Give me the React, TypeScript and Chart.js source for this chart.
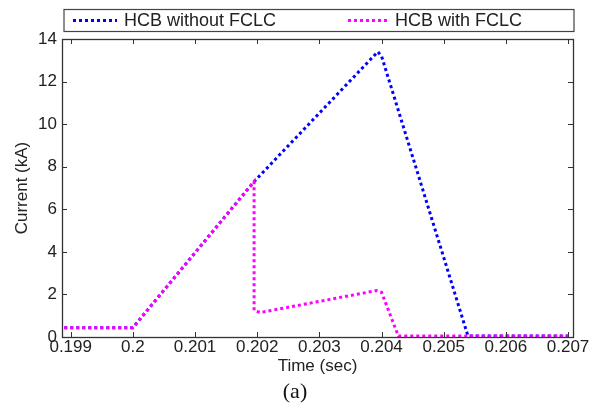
import React, { useEffect, useRef } from "react";
import { Chart, registerables } from "chart.js";

Chart.register(...registerables);

// ---- data ----
const xTicks = [0.199, 0.2, 0.201, 0.202, 0.203, 0.204, 0.205, 0.206, 0.207];
const yTicks = [0, 2, 4, 6, 8, 10, 12, 14];

const seriesLabels = ["HCB without FCLC", "HCB with FCLC"];
const seriesColors = ["#0000ff", "#ff00ff"];

const timeWithout = [0.1988, 0.2, 0.20195, 0.20394, 0.204, 0.20539, 0.207];
const currentWithout = [0.44, 0.44, 7.3, 13.4, 13.2, 0.05, 0.05];

const timeWith = [0.1988, 0.2, 0.20195, 0.20195, 0.20205, 0.20392, 0.204, 0.20427, 0.207];
const currentWith = [0.44, 0.44, 7.3, 1.25, 1.15, 2.18, 2.1, 0.05, 0.05];

const xTitle = "Time (sec)";
const yTitle = "Current (kA)";
const caption = "(a)";

const xMin = 0.19886;
const xMax = 0.20708;
const yMin = 0;
const yMax = 14;

const toPoints = (xs: number[], ys: number[]) => xs.map((x, i) => ({ x, y: ys[i] }));

const fmt = (v: number) => String(parseFloat(v.toFixed(3)));

const decorPlugin = {
  id: "decor",
  afterDatasetsDraw(chart: any) {
    const { ctx, chartArea, scales } = chart;
    const { left, right, top, bottom } = chartArea;
    const x = scales.x;
    const y = scales.y;
    ctx.save();
    ctx.strokeStyle = "#333333";
    ctx.lineWidth = 1;
    ctx.beginPath();
    for (const v of xTicks) {
      const px = Math.round(x.getPixelForValue(v)) + 0.5;
      ctx.moveTo(px, bottom);
      ctx.lineTo(px, bottom - 5);
      ctx.moveTo(px, top);
      ctx.lineTo(px, top + 5);
    }
    for (const v of yTicks) {
      const py = Math.round(y.getPixelForValue(v)) + 0.5;
      ctx.moveTo(left, py);
      ctx.lineTo(left + 5, py);
      ctx.moveTo(right, py);
      ctx.lineTo(right - 5, py);
    }
    ctx.stroke();
    ctx.lineWidth = 1.3;
    ctx.strokeRect(Math.round(left) + 0.5, Math.round(top) + 0.5, Math.round(right - left), Math.round(bottom - top));
    ctx.restore();
  },
  afterDraw(chart: any) {
    const { ctx, chartArea } = chart;
    const { left, right } = chartArea;
    ctx.save();
    // legend box
    const bx = left + 2;
    const by = 9.5;
    const bw = right - left - 1;
    const bh = 22;
    ctx.fillStyle = "#ffffff";
    ctx.fillRect(bx, by, bw, bh);
    ctx.strokeStyle = "#444444";
    ctx.lineWidth = 1.2;
    ctx.strokeRect(bx, by, bw, bh);
    const cy = by + bh / 2;
    const sampleStarts = [bx + 9, bx + 284];
    const sampleLen = [44, 40];
    ctx.font = "18px 'Liberation Sans', Arial, sans-serif";
    ctx.textBaseline = "middle";
    ctx.textAlign = "left";
    chart.data.datasets.forEach((ds: any, i: number) => {
      ctx.strokeStyle = ds.borderColor;
      ctx.lineWidth = 3;
      ctx.setLineDash([3, 3]);
      ctx.beginPath();
      ctx.moveTo(sampleStarts[i], cy);
      ctx.lineTo(sampleStarts[i] + sampleLen[i], cy);
      ctx.stroke();
      ctx.setLineDash([]);
      ctx.fillStyle = "#222222";
      ctx.fillText(ds.label, sampleStarts[i] + sampleLen[i] + 7, cy + 1);
    });
    // caption
    ctx.font = "22px 'Liberation Serif', 'Times New Roman', serif";
    ctx.textAlign = "center";
    ctx.textBaseline = "middle";
    ctx.fillStyle = "#111111";
    ctx.fillText(caption, 295, 392);
    ctx.restore();
  },
};

export default function App() {
  const ref = useRef<HTMLCanvasElement | null>(null);

  useEffect(() => {
    if (!ref.current) return;
    const chart = new Chart(ref.current, {
      type: "line",
      data: {
        datasets: [
          {
            label: seriesLabels[0],
            data: toPoints(timeWithout, currentWithout),
            borderColor: seriesColors[0],
            borderWidth: 3,
            borderDash: [3, 3],
            pointRadius: 0,
            tension: 0,
            fill: false,
            order: 2,
          },
          {
            label: seriesLabels[1],
            data: toPoints(timeWith, currentWith),
            borderColor: seriesColors[1],
            borderWidth: 3,
            borderDash: [3, 3],
            pointRadius: 0,
            tension: 0,
            fill: false,
            order: 1,
          },
        ],
      },
      options: {
        animation: false,
        responsive: false,
        maintainAspectRatio: false,
        layout: { padding: { top: 39, right: 21, left: 0, bottom: 0 } },
        plugins: {
          legend: { display: false },
          tooltip: { enabled: false },
        },
        scales: {
          x: {
            type: "linear",
            min: xMin,
            max: xMax,
            afterBuildTicks: (scale: any) => {
              scale.ticks = xTicks.map((v) => ({ value: v }));
            },
            afterFit: (scale: any) => {
              scale.height = 66;
            },
            grid: { display: false, drawTicks: false },
            border: { display: false },
            ticks: {
              autoSkip: false,
              maxRotation: 0,
              padding: 2,
              color: "#222222",
              font: { family: "'Liberation Sans', Arial, sans-serif", size: 17, lineHeight: 1 },
              callback: (v: any) => fmt(Number(v)),
            },
            title: {
              display: true,
              text: xTitle,
              color: "#222222",
              font: { family: "'Liberation Sans', Arial, sans-serif", size: 17, lineHeight: 1.2 },
              padding: { top: 0, bottom: 26 },
            },
          },
          y: {
            type: "linear",
            min: yMin,
            max: yMax,
            afterBuildTicks: (scale: any) => {
              scale.ticks = yTicks.map((v) => ({ value: v }));
            },
            afterFit: (scale: any) => {
              scale.width = 62;
            },
            grid: { display: false, drawTicks: false },
            border: { display: false },
            ticks: {
              autoSkip: false,
              padding: 5,
              color: "#222222",
              font: { family: "'Liberation Sans', Arial, sans-serif", size: 17, lineHeight: 1 },
              callback: (v: any) => String(v),
            },
            title: {
              display: true,
              text: yTitle,
              color: "#222222",
              font: { family: "'Liberation Sans', Arial, sans-serif", size: 17, lineHeight: 1.2 },
              padding: { top: 12, bottom: 0 },
            },
          },
        },
      },
      plugins: [decorPlugin],
    });
    return () => chart.destroy();
  }, []);

  return (
    <div style={{ position: "absolute", left: 0, top: 0, width: 594, height: 403, background: "#ffffff" }}>
      <canvas ref={ref} width={594} height={403} />
    </div>
  );
}
